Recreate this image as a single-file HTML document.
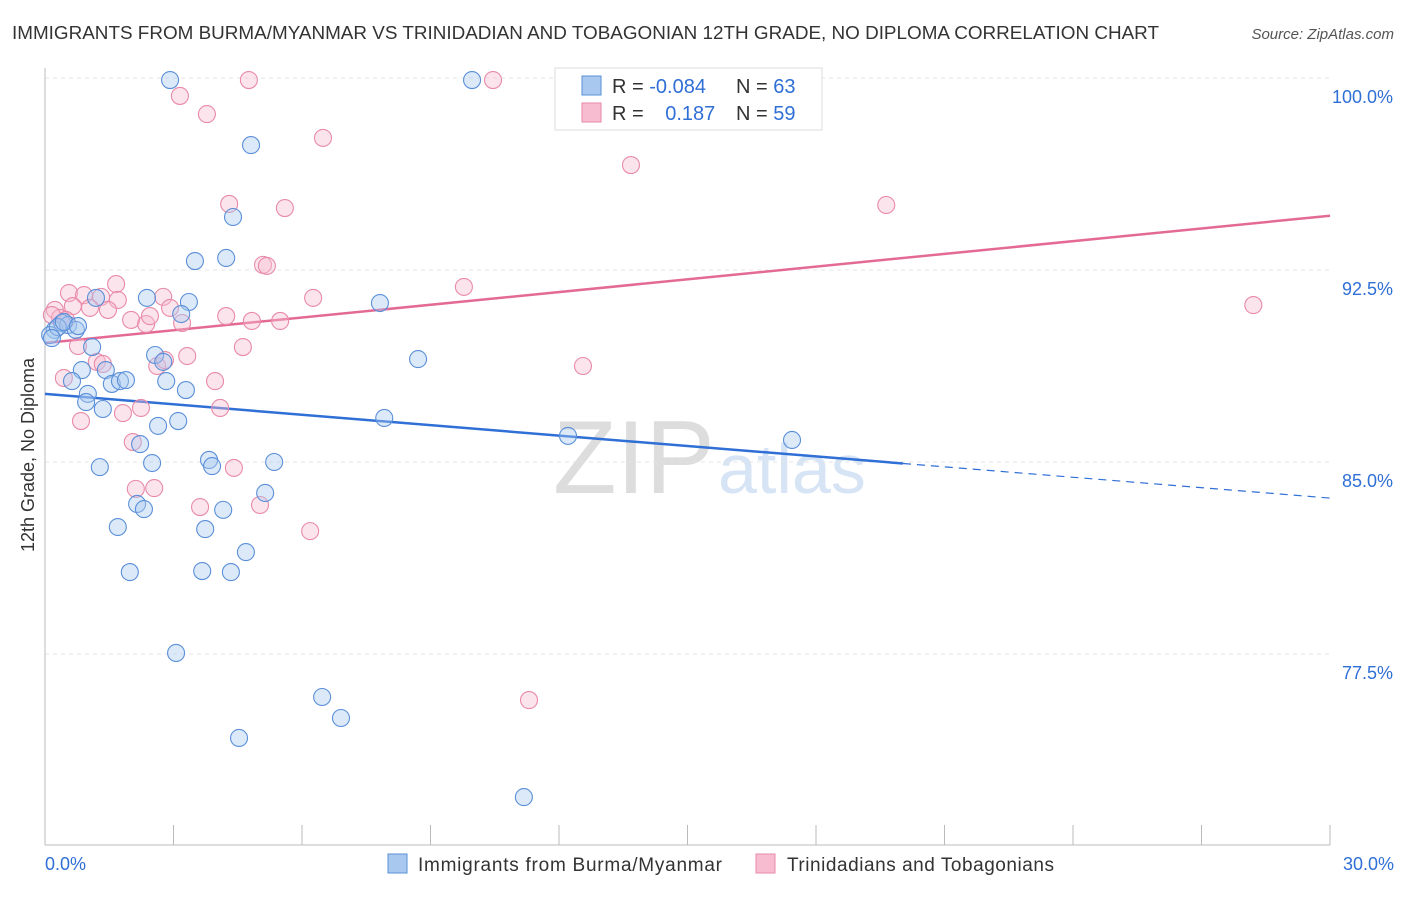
<!DOCTYPE html>
<html><head><meta charset="utf-8"><style>
body{margin:0;background:#fff;font-family:"Liberation Sans",sans-serif}
svg text{font-family:"Liberation Sans",sans-serif}
</style></head><body>
<svg id="c" width="1406" height="892">
<text x="12" y="39" font-size="18" fill="#333" textLength="1147" lengthAdjust="spacingAndGlyphs">IMMIGRANTS FROM BURMA/MYANMAR VS TRINIDADIAN AND TOBAGONIAN 12TH GRADE, NO DIPLOMA CORRELATION CHART</text>
<text x="1394" y="39" font-size="15" fill="#555" font-style="italic" text-anchor="end">Source: ZipAtlas.com</text>
<g><text x="553" y="493" font-size="104" fill="#ddd" font-family="Liberation Serif">ZIP</text><text x="718" y="493" font-size="70" fill="#d6e4f5">atlas</text></g>
<g id="grid"></g><g id="axes"></g><g id="lines"></g><g id="pts"></g>
<text transform="translate(34,455) rotate(-90)" font-size="18" fill="#333" text-anchor="middle">12th Grade, No Diploma</text>
<g>
<rect x="555" y="68" width="267" height="62" fill="#fff" stroke="#ddd"/>
<rect x="582" y="76" width="19" height="19" fill="#a8c8f0" stroke="#5b8fd8"/>
<rect x="582" y="103" width="19" height="19" fill="#f7bcd0" stroke="#e88aa8"/>
<text x="612" y="93" font-size="20" fill="#333">R = <tspan fill="#2f6fd6">-0.084</tspan></text>
<text x="736" y="93" font-size="20" fill="#333">N = <tspan fill="#2f6fd6">63</tspan></text>
<text x="612" y="120" font-size="20" fill="#333">R = <tspan fill="#2f6fd6" dx="16">0.187</tspan></text>
<text x="736" y="120" font-size="20" fill="#333">N = <tspan fill="#2f6fd6">59</tspan></text>
</g>
<g>
<rect x="388" y="854" width="19" height="19" fill="#a8c8f0" stroke="#5b8fd8"/>
<text x="418" y="871" font-size="19" fill="#333" textLength="304">Immigrants from Burma/Myanmar</text>
<rect x="756" y="854" width="19" height="19" fill="#f7bcd0" stroke="#e88aa8"/>
<text x="787" y="871" font-size="19" fill="#333" textLength="267">Trinidadians and Tobagonians</text>
</g>
</svg>
<script>
const yTicks=[100,92.5,85,77.5];
const yTickLabels=["100.0%","92.5%","85.0%","77.5%"];
const xEndLabels=["0.0%","30.0%"];
const blueX=[2.92,9.97,4.81,4.39,3.50,4.23,2.38,1.19,3.36,3.18,7.82,0.23,0.40,0.54,0.72,1.10,2.57,2.76,8.71,0.86,1.42,0.63,1.56,1.75,1.89,2.83,3.29,1.00,0.96,1.35,3.11,2.64,7.92,12.21,17.44,2.22,2.50,3.83,3.90,5.35,1.28,5.14,2.15,2.31,4.16,1.70,3.74,4.69,1.98,3.67,4.34,3.06,6.47,6.91,4.53,11.18,0.12,0.30,0.44,0.16,0.77];
const blueY=[99.92,99.92,97.38,94.57,92.85,92.97,91.41,91.41,91.25,90.78,91.21,90.16,90.43,90.35,90.16,89.49,89.18,88.91,89.02,88.59,88.59,88.16,88.05,88.16,88.20,88.16,87.81,87.66,87.34,87.07,86.60,86.41,86.72,86.02,85.86,85.70,84.96,85.08,84.84,85.00,84.80,83.79,83.36,83.16,83.13,82.46,82.38,81.48,80.70,80.74,80.70,77.54,75.82,75.00,74.22,71.91,89.96,90.27,90.47,89.84,90.31];
const pinkX=[4.76,10.46,3.15,3.78,6.49,13.68,4.30,5.60,19.64,5.09,5.18,9.78,1.66,0.56,0.91,1.31,2.76,6.26,1.70,0.65,1.05,1.47,2.92,0.23,0.35,2.01,2.36,3.20,4.23,4.83,5.49,2.45,28.21,0.77,4.62,3.32,1.21,1.35,2.62,2.80,12.56,3.97,0.44,2.24,4.09,1.82,0.84,2.05,4.41,2.12,2.55,3.62,5.02,6.19,11.30,0.16,0.49];
const pinkY=[99.92,99.92,99.30,98.59,97.66,96.60,95.08,94.92,95.04,92.70,92.66,91.84,91.95,91.60,91.52,91.45,91.45,91.41,91.33,91.09,91.02,90.94,91.02,90.94,90.63,90.55,90.39,90.43,90.70,90.51,90.51,90.70,91.13,89.53,89.49,89.14,88.91,88.83,88.75,88.98,88.75,88.16,88.28,87.11,87.11,86.91,86.60,85.78,84.77,83.95,83.98,83.24,83.32,82.30,75.70,90.74,90.55];
const blueTrend=[87.66,83.59], blueSolidEnd=20.03;
const pinkTrend=[89.65,94.62];
const X=v=>45+v/30*1285, Y=v=>78+(100-v)*25.6;
const NS="http://www.w3.org/2000/svg";
function mk(p,t,a){const e=document.createElementNS(NS,t);for(const k in a)e.setAttribute(k,a[k]);document.getElementById(p).appendChild(e);return e;}
yTicks.forEach((t,i)=>{
 const g=mk('grid','line',{x1:45,x2:1330,y1:Y(t),y2:Y(t),stroke:'#e4e4e4','stroke-dasharray':'4,4'});
 
 
 const l=mk('axes','text',{x:1393,y:Y(t)+25,'font-size':18,fill:'#2f6fd6','text-anchor':'end'});l.textContent=yTickLabels[i];
 
 
});
const ax=mk('axes','line',{x1:45,x2:45,y1:68,y2:845,stroke:'#bbb'});


const bx=mk('axes','line',{x1:45,x2:1330,y1:845,y2:845,stroke:'#bbb'});


for(let i=0;i<=10;i++){const t=mk('axes','line',{x1:X(i*3),x2:X(i*3),y1:825,y2:845,stroke:'#bbb'});
 
 }
[[0,'start',45],[1,'end',1394]].forEach(([i,a,x])=>{const l=mk('axes','text',{x:x,y:870,'font-size':18,fill:'#2f6fd6','text-anchor':a});l.textContent=xEndLabels[i];
 
 });
function pts(xs,ys,f,s,n){xs.forEach((x,i)=>{const c=mk('pts','circle',{cx:X(x),cy:Y(ys[i]),r:8.5,fill:f,'fill-opacity':0.4,stroke:s,'stroke-width':1.1});
 
 });}
pts(pinkX,pinkY,'#f7bcd0','#e88aa8','pink-point');
pts(blueX,blueY,'#a8c8f0','#5b8fd8','blue-point');
const bl=(v)=>blueTrend[0]+(blueTrend[1]-blueTrend[0])*v/30;
const l1=mk('lines','line',{x1:X(0),y1:Y(blueTrend[0]),x2:X(blueSolidEnd),y2:Y(bl(blueSolidEnd)),stroke:'#2f6fd6','stroke-width':2.5});


const l2=mk('lines','line',{x1:X(blueSolidEnd),y1:Y(bl(blueSolidEnd)),x2:X(30),y2:Y(blueTrend[1]),stroke:'#2f6fd6','stroke-width':1.2,'stroke-dasharray':'8,6'});


const l3=mk('lines','line',{x1:X(0),y1:Y(pinkTrend[0]),x2:X(30),y2:Y(pinkTrend[1]),stroke:'#e46a96','stroke-width':2.5});


</script>
</body></html>
